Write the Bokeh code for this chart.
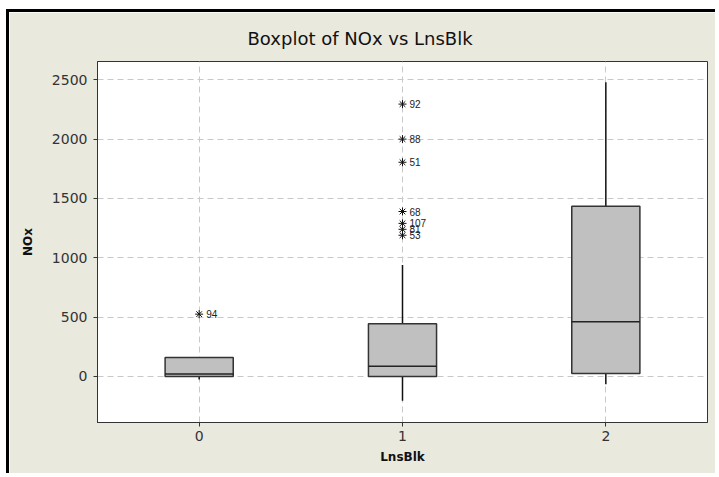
import numpy as np
from bokeh.plotting import figure
from bokeh.models import ColumnDataSource, FixedTicker, Range1d, Title
from bokeh.embed import file_html
from bokeh.resources import INLINE

# ---- data ----
cats = [0, 1, 2]
q1 = [0, 0, 25]
median = [20, 85, 460]
q3 = [160, 445, 1435]
whisk_lo = [-25, -205, -65]
whisk_hi = [160, 940, 2480]

out_x = [0, 1, 1, 1, 1, 1, 1, 1]
out_y = [525, 2295, 2000, 1805, 1390, 1290, 1240, 1190]
out_lab = ["94", "92", "88", "51", "68", "107", "81", "53"]

y_ticks = [0, 500, 1000, 1500, 2000, 2500]

BOX_W = 0.335
BG = "#E9E9DE"
FONT = "DejaVu Sans"

p = figure(width=709, height=464, output_backend="svg", toolbar_location=None,
           x_range=Range1d(-0.5, 2.5), y_range=Range1d(-388, 2654),
           min_border_left=88, min_border_right=11, min_border_top=49,
           min_border_bottom=54)
p.styles = {"margin-left": "6px", "margin-top": "9px",
            "border-left": "3px solid black", "border-top": "3px solid black"}
p.border_fill_color = BG
p.background_fill_color = "white"
p.outline_line_color = "#333333"
p.outline_line_width = 1

t = Title(text="Boxplot of NOx vs LnsBlk", align="left", offset=150,
          text_font=FONT, text_font_size="18px", text_font_style="normal",
          text_color="#111111", standoff=25)
p.add_layout(t, "above")

src = ColumnDataSource(dict(x=cats, q1=q1, med=median, q3=q3, lo=whisk_lo, hi=whisk_hi,
                            xl=[c - BOX_W / 2 for c in cats], xr=[c + BOX_W / 2 for c in cats]))

p.segment(x0="x", y0="q3", x1="x", y1="hi", source=src, line_color="#111111", line_width=1.5)
p.segment(x0="x", y0="q1", x1="x", y1="lo", source=src, line_color="#111111", line_width=1.5)
p.vbar(x="x", width=BOX_W, bottom="q1", top="q3", source=src,
       fill_color="#C0C0C0", line_color="#333333", line_width=1.5)
p.segment(x0="xl", y0="med", x1="xr", y1="med", source=src, line_color="#222222", line_width=1.5)

osrc = ColumnDataSource(dict(x=out_x, y=out_y, lab=out_lab))
p.scatter(x="x", y="y", source=osrc, marker="asterisk", size=8, line_color="#111111", line_width=1)
p.text(x="x", y="y", text="lab", source=osrc, x_offset=7, text_baseline="middle",
       text_font_size="10px", text_color="#222222")

p.xaxis.ticker = FixedTicker(ticks=cats)
p.yaxis.ticker = FixedTicker(ticks=y_ticks)
for ax in (p.xaxis, p.yaxis):
    ax.major_label_text_font = FONT
    ax.major_label_text_font_size = "14px"
    ax.major_label_text_color = "#333333"
    ax.axis_line_color = "#333333"
    ax.major_tick_line_color = "#333333"
    ax.major_tick_out = 4
    ax.major_tick_in = 0
    ax.minor_tick_line_color = None
    ax.axis_label_text_font = FONT
    ax.axis_label_text_font_size = "12px"
    ax.axis_label_text_font_style = "bold"
    ax.axis_label_text_color = "#111111"
p.xaxis.axis_label = "LnsBlk"
p.yaxis.axis_label = "NOx"
p.xaxis.major_label_standoff = 4
p.yaxis.major_label_standoff = 6
p.yaxis.axis_label_standoff = 14
p.xaxis.axis_label_standoff = 6

p.grid.grid_line_color = "#C8C8C8"
p.grid.grid_line_dash = "6 4"
p.grid.grid_line_width = 1

open("out.html", "w").write(file_html(p, INLINE))
